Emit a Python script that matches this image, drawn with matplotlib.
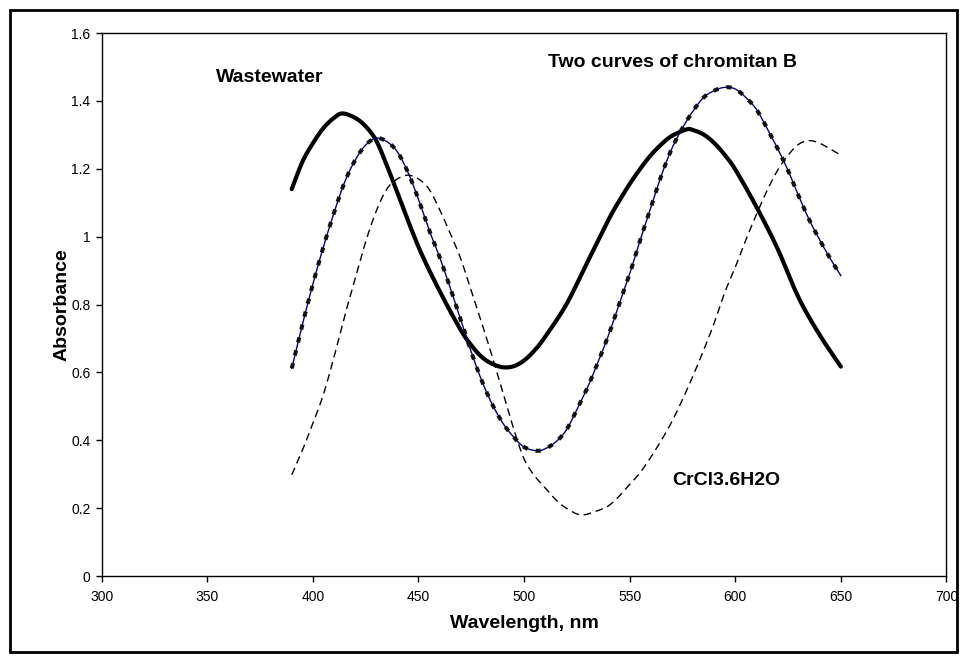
import matplotlib
matplotlib.use("Agg")
import numpy as np
import matplotlib.pyplot as plt
from matplotlib.patches import Rectangle

plt.rcParams['font.family'] = ['Liberation Sans', 'DejaVu Sans']

# Wastewater
wl_ww = [390, 395, 400, 405, 410, 414, 420, 425, 430, 435, 440, 450, 460, 470, 475, 480,
         485, 490, 495, 500, 505, 510, 520, 530, 540, 545, 550, 555, 560, 565, 570, 577,
         580, 585, 590, 595, 600, 610, 620, 630, 640, 650]
abs_ww = [1.14, 1.22, 1.275, 1.32, 1.35, 1.363, 1.35, 1.325, 1.283, 1.21, 1.13, 0.97,
          0.84, 0.725, 0.68, 0.645, 0.625, 0.615, 0.618, 0.635, 0.665, 0.705, 0.80, 0.925,
          1.05, 1.105, 1.155, 1.20, 1.24, 1.272, 1.297, 1.316, 1.314, 1.301, 1.276, 1.241,
          1.198, 1.088, 0.965, 0.82, 0.71, 0.617]

# Chromitan B (two identical curves)
wl_cb = [390, 395, 400, 405, 410, 415, 420, 425, 430, 435, 440, 445, 450, 455, 460,
         465, 470, 475, 480, 485, 490, 495, 500, 506, 510, 515, 520, 525, 530, 535,
         540, 545, 550, 555, 560, 565, 570, 575, 580, 585, 590, 595, 600, 605, 610,
         615, 620, 625, 630, 635, 640, 645, 650]
abs_cb = [0.612, 0.74, 0.86, 0.97, 1.07, 1.16, 1.225, 1.27, 1.29, 1.28, 1.25, 1.19,
          1.11, 1.02, 0.94, 0.85, 0.755, 0.66, 0.575, 0.505, 0.45, 0.41, 0.38, 0.369,
          0.375, 0.395, 0.43, 0.49, 0.555, 0.63, 0.71, 0.80, 0.89, 0.99, 1.085, 1.18,
          1.26, 1.32, 1.37, 1.41, 1.43, 1.44, 1.435, 1.41, 1.375, 1.32, 1.26, 1.195,
          1.12, 1.05, 0.99, 0.935, 0.885]

# CrCl3.6H2O
wl_cr = [390, 395, 400, 405, 410, 415, 420, 425, 430, 435, 440, 445, 450, 455, 460,
         465, 470, 475, 480, 485, 490, 495, 500, 505, 510, 515, 520, 527, 535, 540,
         545, 550, 555, 560, 565, 570, 575, 580, 585, 590, 595, 600, 605, 610, 615,
         620, 625, 630, 635, 640, 645, 650]
abs_cr = [0.298, 0.37, 0.45, 0.535, 0.645, 0.765, 0.875, 0.985, 1.075, 1.14, 1.17, 1.181,
          1.17, 1.14, 1.08, 1.01, 0.935, 0.84, 0.745, 0.645, 0.54, 0.435, 0.345, 0.295,
          0.26, 0.225, 0.2, 0.18, 0.193, 0.207, 0.235, 0.27, 0.305, 0.35, 0.40, 0.455,
          0.52, 0.59, 0.665, 0.745, 0.835, 0.91, 0.99, 1.065, 1.135, 1.195, 1.24, 1.272,
          1.283, 1.275, 1.258, 1.24]

x_ticks = [300, 350, 400, 450, 500, 550, 600, 650, 700]
y_ticks = [0, 0.2, 0.4, 0.6, 0.8, 1.0, 1.2, 1.4, 1.6]
y_labels = ['0', '0.2', '0.4', '0.6', '0.8', '1', '1.2', '1.4', '1.6']


def smooth(x, y, n=12):
    """Catmull-Rom rendering of the read points (like a smoothed Excel line)."""
    x = np.asarray(x, float)
    y = np.asarray(y, float)
    px = np.concatenate([[2 * x[0] - x[1]], x, [2 * x[-1] - x[-2]]])
    py = np.concatenate([[2 * y[0] - y[1]], y, [2 * y[-1] - y[-2]]])
    ox, oy = [], []
    t = np.linspace(0, 1, n, endpoint=False)
    for i in range(1, len(px) - 2):
        for P, out in ((px, ox), (py, oy)):
            p0, p1, p2, p3 = P[i - 1], P[i], P[i + 1], P[i + 2]
            out.extend(0.5 * ((2 * p1) + (-p0 + p2) * t
                              + (2 * p0 - 5 * p1 + 4 * p2 - p3) * t ** 2
                              + (-p0 + 3 * p1 - 3 * p2 + p3) * t ** 3))
    ox.append(x[-1])
    oy.append(y[-1])
    return np.array(ox), np.array(oy)


fig = plt.figure(figsize=(9.6, 6.64), dpi=100)
ax = fig.add_axes([0.1059, 0.1325, 0.880, 0.8178])

sx, sy = smooth(wl_ww, abs_ww)
ax.plot(sx, sy, color='black', lw=3.0, solid_capstyle='round', zorder=3)
sx, sy = smooth(wl_cr, abs_cr)
ax.plot(sx, sy, color='black', lw=1.0, dashes=(5.5, 3.5), zorder=3)
sx, sy = smooth(wl_cb, abs_cb)
ax.plot(sx, sy, color='#000080', lw=1.0, zorder=4)
ax.plot(sx, sy, color='#111111', lw=2.9, dashes=(1.3, 2.0), zorder=5)

ax.set_xlim(300, 700)
ax.set_ylim(0, 1.6)
ax.set_xticks(x_ticks)
ax.set_yticks(y_ticks)
ax.set_yticklabels(y_labels)
ax.tick_params(direction='out', length=4, width=1, labelsize=10)
ax.tick_params(axis='x', pad=6)
ax.tick_params(axis='y', pad=4)
for s in ax.spines.values():
    s.set_linewidth(1.0)

ax.set_xlabel('Wavelength, nm', fontsize=14, fontweight='bold')
ax.set_ylabel('Absorbance', fontsize=14, fontweight='bold')
ax.xaxis.set_label_coords(0.5, -0.0718)
ax.yaxis.set_label_coords(-0.0363, 0.499)

ax.text(354.1, 1.456, 'Wastewater', fontsize=14, fontweight='bold', ha='left', va='baseline')
ax.text(570.4, 1.50, 'Two curves of chromitan B', fontsize=14, fontweight='bold', ha='center', va='baseline')
ax.text(570.3, 0.268, 'CrCl3.6H2O', fontsize=14, fontweight='bold', ha='left', va='baseline')

fig.patches.append(Rectangle((10/960, 1 - 652/664), 947/960, 642.5/664,
                             transform=fig.transFigure, fill=False,
                             edgecolor='black', lw=2.0))

fig.savefig('out.png', dpi=100)
